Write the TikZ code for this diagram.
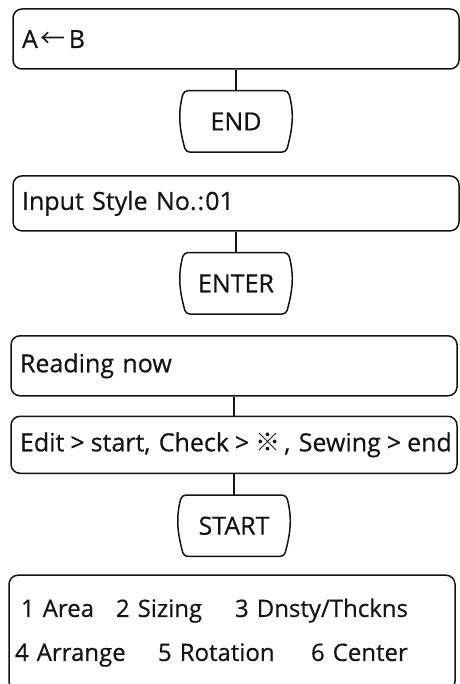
\documentclass[tikz,border=0pt]{standalone}
\usepackage{fontspec}
\setmainfont{Open Sans}[FakeBold=0.5]
\newfontfamily\cjk{Noto Sans CJK JP}
\usetikzlibrary{positioning}
\definecolor{Ink}{HTML}{141414}
\definecolor{Page}{HTML}{FFFFFF}
\tikzset{
  panel/.style={draw=Ink,rounded corners=9pt,line width=1.5pt,minimum height=60pt,text width=428pt,inner xsep=9pt,align=left,font=\fontsize{25}{30}\selectfont,text=Ink},
  keycap/.style={minimum width=110pt,minimum height=61pt,inner sep=0pt,font=\fontsize{25}{30}\selectfont,text=Ink},
  keyline/.style={draw=Ink,line width=1.5pt,rounded corners=4pt},
  link/.style={draw=Ink,line width=1.5pt}
}
\newcommand{\gt}{\kern6pt>\kern6pt}

\begin{document}
\begin{tikzpicture}[x=1pt,y=-1pt,node distance=21pt]
  \fill[Page] (0,0) rectangle (459,684);
  \useasboundingbox (0,0) rectangle (459,684);
  \node[panel] (assign) at (236,39) {A\kern3pt{\cjk ←}\kern3pt B};
  \node[keycap,below=of assign] (endkey) {END};
  \node[panel,minimum height=55pt,below=23pt of endkey] (stylein) {Input Style No.\kern1pt:\kern1pt01};
  \node[keycap,below=of stylein] (enterkey) {ENTER};
  \node[panel,below=of enterkey,xshift=-2pt] (reading) {Reading now};
  \node[panel,minimum height=57pt,below=19pt of reading] (modes)
    {\mbox{Edit\gt start, Check\gt{\cjk ※}\kern4pt, Sewing\gt end}};
  \node[keycap,below=of modes] (startkey) {START};
  \node[panel,minimum height=115pt,below=18pt of startkey,xshift=-2pt,font=\fontsize{24}{29}\selectfont] (menu)
    {\hspace*{3pt}\makebox[95pt][l]{1 Area}\makebox[119pt][l]{2 Sizing}3 Dnsty/Thckns\\[15pt]
     \hspace*{-3pt}\makebox[143pt][l]{4\,\,Arrange}\makebox[153pt][l]{5 Rotation}6 Center};
  % key outlines
  \foreach \k in {endkey,enterkey,startkey}
    \draw[keyline] ([xshift=3pt]\k.north west) to[out=-105,in=105] ([xshift=5pt]\k.south west)
      -- ([xshift=-5pt]\k.south east) to[out=75,in=-75] ([xshift=-3pt]\k.north east) -- cycle;
  \draw[link] (assign) -- (endkey);
  \draw[link] (stylein) -- (enterkey);
  \draw[link] (reading) -- (modes);
  \draw[link] (modes) -- (startkey);
\end{tikzpicture}
\end{document}
